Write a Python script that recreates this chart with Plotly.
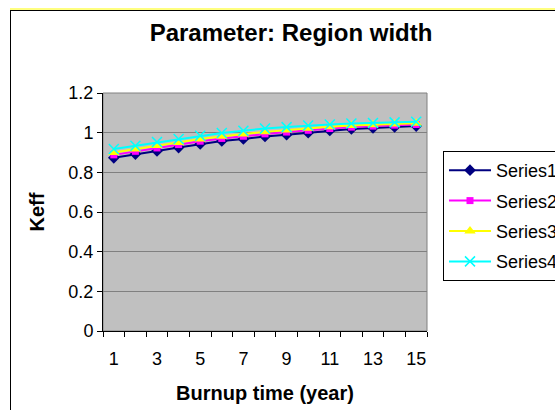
import plotly.graph_objects as go

years = list(range(1, 16))
series_names = ["Series1", "Series2", "Series3", "Series4"]
series1 = [0.873, 0.892, 0.908, 0.925, 0.943, 0.958, 0.968, 0.981, 0.990, 1.000, 1.011, 1.019, 1.024, 1.029, 1.033]
series2 = [0.888, 0.906, 0.923, 0.940, 0.957, 0.971, 0.982, 0.994, 1.003, 1.012, 1.021, 1.028, 1.033, 1.038, 1.041]
series3 = [0.900, 0.918, 0.935, 0.951, 0.968, 0.982, 0.993, 1.004, 1.013, 1.022, 1.030, 1.036, 1.040, 1.044, 1.047]
series4 = [0.918, 0.934, 0.953, 0.968, 0.984, 0.998, 1.010, 1.021, 1.028, 1.036, 1.041, 1.046, 1.049, 1.052, 1.055]
x_tick_labels = ["1", "3", "5", "7", "9", "11", "13", "15"]
x_tick_vals = [1, 3, 5, 7, 9, 11, 13, 15]
y_tick_vals = [0, 0.2, 0.4, 0.6, 0.8, 1.0, 1.2]
y_tick_labels = ["0", "0.2", "0.4", "0.6", "0.8", "1", "1.2"]

colors = ["#000080", "#FF00FF", "#FFFF00", "#00FFFF"]
symbols = ["diamond", "square", "triangle-up", "x-thin"]
sizes = [9, 7, 10, 10]

FONT = "Liberation Sans, Arial, sans-serif"

fig = go.Figure()
for i, (name, vals) in enumerate(zip(series_names, [series1, series2, series3, series4])):
    marker = dict(symbol=symbols[i], size=sizes[i], color=colors[i])
    if symbols[i] == "x-thin":
        marker["line"] = dict(color=colors[i], width=1.5)
    fig.add_trace(go.Scatter(
        x=years, y=vals, name=name, mode="lines+markers",
        line=dict(color=colors[i], width=2),
        marker=marker, legendgroup=name,
    ))

W, H = 555, 410
L, R, T, B = 103, 427, 93, 331
pw, ph = R - L, B - T

def px_x(p):
    return (p - L) / pw

def px_y(p):
    return (B - p) / ph

shapes = [
    dict(type="rect", xref="paper", yref="paper", x0=0, x1=1, y0=0, y1=1,
         line=dict(color="#808080", width=1), layer="below"),
    dict(type="line", xref="paper", yref="paper", x0=px_x(10), x1=px_x(600),
         y0=px_y(9), y1=px_y(9), line=dict(color="#FFFF00", width=1)),
    dict(type="line", xref="paper", yref="paper", x0=px_x(10), x1=px_x(600),
         y0=px_y(10.5), y1=px_y(10.5), line=dict(color="black", width=1)),
    dict(type="line", xref="paper", yref="paper", x0=px_x(10.5), x1=px_x(10.5),
         y0=px_y(10), y1=px_y(450), line=dict(color="black", width=1)),
]

fig.update_layout(
    width=W, height=H,
    margin=dict(l=L, r=W - R, t=T, b=H - B, autoexpand=False),
    paper_bgcolor="white",
    plot_bgcolor="#C0C0C0",
    font=dict(family=FONT, size=18, color="black"),
    title=dict(text="<b>Parameter: Region width</b>", font=dict(size=24, family=FONT),
               x=291 / W, xanchor="center", y=1 - 33 / H, yanchor="middle",
               xref="container", yref="container"),
    showlegend=True,
    legend=dict(x=px_x(443), y=px_y(151), xanchor="left", yanchor="top",
                bgcolor="white", bordercolor="black", borderwidth=1,
                font=dict(size=18, family=FONT), tracegroupgap=4,
                traceorder="grouped", itemwidth=42),
    shapes=shapes,
)

fig.update_xaxes(
    range=[0.5, 15.5], tickmode="array", tickvals=x_tick_vals, ticktext=x_tick_labels,
    ticks="outside", ticklen=11, tickcolor="rgba(0,0,0,0)",
    showgrid=False, zeroline=False, showline=True, linecolor="black", linewidth=1,
    minor=dict(tickmode="linear", tick0=0.5, dtick=1, ticks="outside", ticklen=5,
               tickcolor="black", showgrid=False),
    title=dict(text="<b>Burnup time (year)</b>", font=dict(size=20, family=FONT), standoff=18),
    tickfont=dict(size=18, family=FONT),
)
fig.update_yaxes(
    range=[0, 1.2], tickmode="array", tickvals=y_tick_vals, ticktext=y_tick_labels,
    ticks="outside", ticklen=5, tickcolor="black",
    showgrid=True, gridcolor="#808080", gridwidth=1, zeroline=False,
    showline=True, linecolor="black", linewidth=1,
    title=dict(text="<b>Keff</b>", font=dict(size=20, family=FONT), standoff=18),
    tickfont=dict(size=18, family=FONT),
)

fig.write_html("out.html")
